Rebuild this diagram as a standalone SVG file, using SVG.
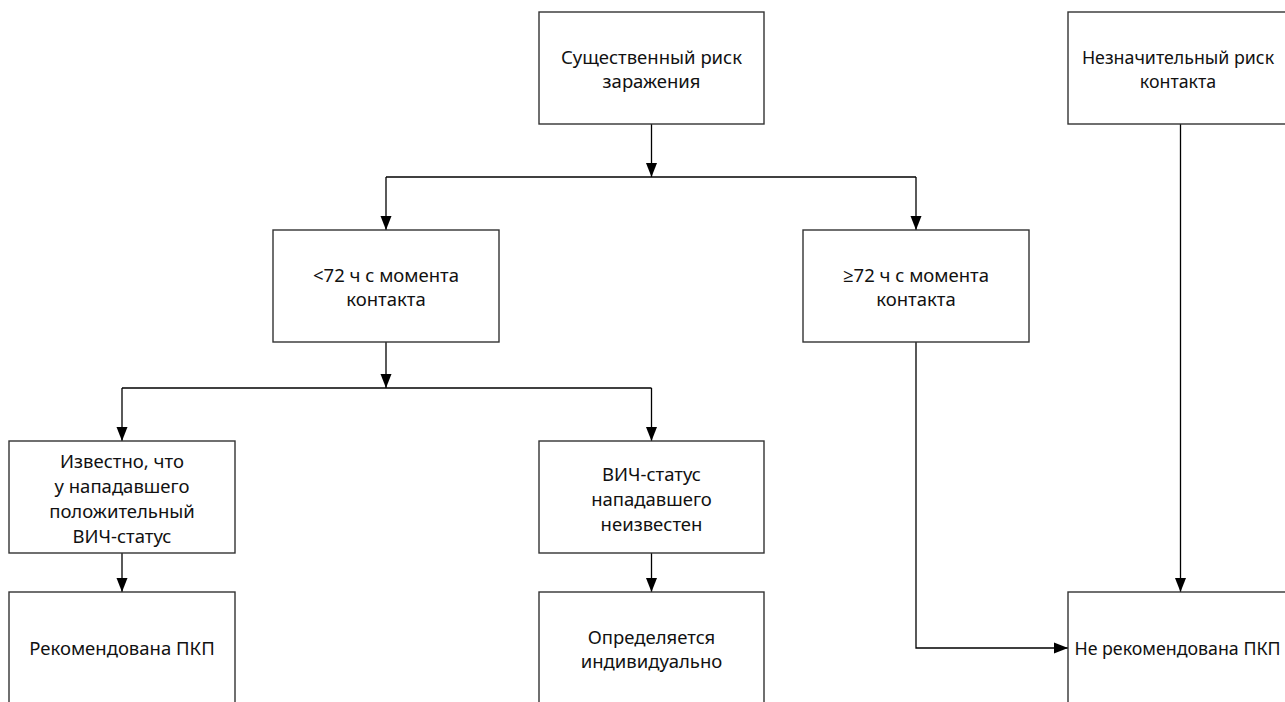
<svg xmlns="http://www.w3.org/2000/svg" width="1285" height="702" viewBox="0 0 1285 702">
<defs>
<style>
.box{fill:#fff;stroke:#333;stroke-width:1.4}
.t{font-family:"Noto Sans","Open Sans",sans-serif;font-size:18.5px;fill:#111;text-anchor:middle}
.s{font-size:17.8px}
.c{fill:none;stroke:#000;stroke-width:1.3}
</style>
<marker id="ah" markerUnits="userSpaceOnUse" markerWidth="14" markerHeight="12" refX="14" refY="5.5" orient="auto" viewBox="0 0 14 11">
<path d="M0,0 L14,5.5 L0,11 z" fill="#000"/>
</marker>
</defs>
<rect width="1285" height="702" fill="#fff"/>
<g id="connectors">
<path class="c" d="M651.5,124 V177" marker-end="url(#ah)"/>
<path class="c" d="M386,177 H916"/>
<path class="c" d="M386,177 V230" marker-end="url(#ah)"/>
<path class="c" d="M916,177 V230" marker-end="url(#ah)"/>
<path class="c" d="M386,342 V388" marker-end="url(#ah)"/>
<path class="c" d="M122,388 H651.5"/>
<path class="c" d="M122,388 V441" marker-end="url(#ah)"/>
<path class="c" d="M651.5,388 V441" marker-end="url(#ah)"/>
<path class="c" d="M122,553 V592" marker-end="url(#ah)"/>
<path class="c" d="M651.5,553 V592" marker-end="url(#ah)"/>
<path class="c" d="M1180.5,124 V592" marker-end="url(#ah)"/>
<path class="c" d="M916,342 V648 H1068" marker-end="url(#ah)"/>
</g>
<g id="n1"><rect class="box" x="539" y="12" width="225" height="112"/>
<text class="t"><tspan x="651.5" y="64">Существенный риск</tspan><tspan x="651.5" y="88">заражения</tspan></text></g>
<g id="n2"><rect class="box" x="1068" y="12" width="225" height="112"/>
<text class="t s"><tspan x="1178" y="64">Незначительный риск</tspan><tspan x="1178" y="88">контакта</tspan></text></g>
<g id="n3"><rect class="box" x="273" y="230" width="226" height="112"/>
<text class="t"><tspan x="386" y="282">&lt;72 ч с момента</tspan><tspan x="386" y="306">контакта</tspan></text></g>
<g id="n4"><rect class="box" x="803" y="230" width="226" height="112"/>
<text class="t"><tspan x="916" y="282">≥72 ч с момента</tspan><tspan x="916" y="306">контакта</tspan></text></g>
<g id="n5"><rect class="box" x="9" y="441" width="226" height="112"/>
<text class="t"><tspan x="122" y="468">Известно, что</tspan><tspan x="122" y="493">у нападавшего</tspan><tspan x="122" y="518">положительный</tspan><tspan x="122" y="543">ВИЧ-статус</tspan></text></g>
<g id="n6"><rect class="box" x="539" y="441" width="225" height="112"/>
<text class="t"><tspan x="651.5" y="481">ВИЧ-статус</tspan><tspan x="651.5" y="506">нападавшего</tspan><tspan x="651.5" y="531">неизвестен</tspan></text></g>
<g id="n7"><rect class="box" x="9" y="592" width="226" height="112"/>
<text class="t"><tspan x="122" y="655">Рекомендована ПКП</tspan></text></g>
<g id="n8"><rect class="box" x="539" y="592" width="225" height="112"/>
<text class="t"><tspan x="651.5" y="644">Определяется</tspan><tspan x="651.5" y="668">индивидуально</tspan></text></g>
<g id="n9"><rect class="box" x="1068" y="592" width="225" height="112"/>
<text class="t s"><tspan x="1177.5" y="655">Не рекомендована ПКП</tspan></text></g>
</svg>
